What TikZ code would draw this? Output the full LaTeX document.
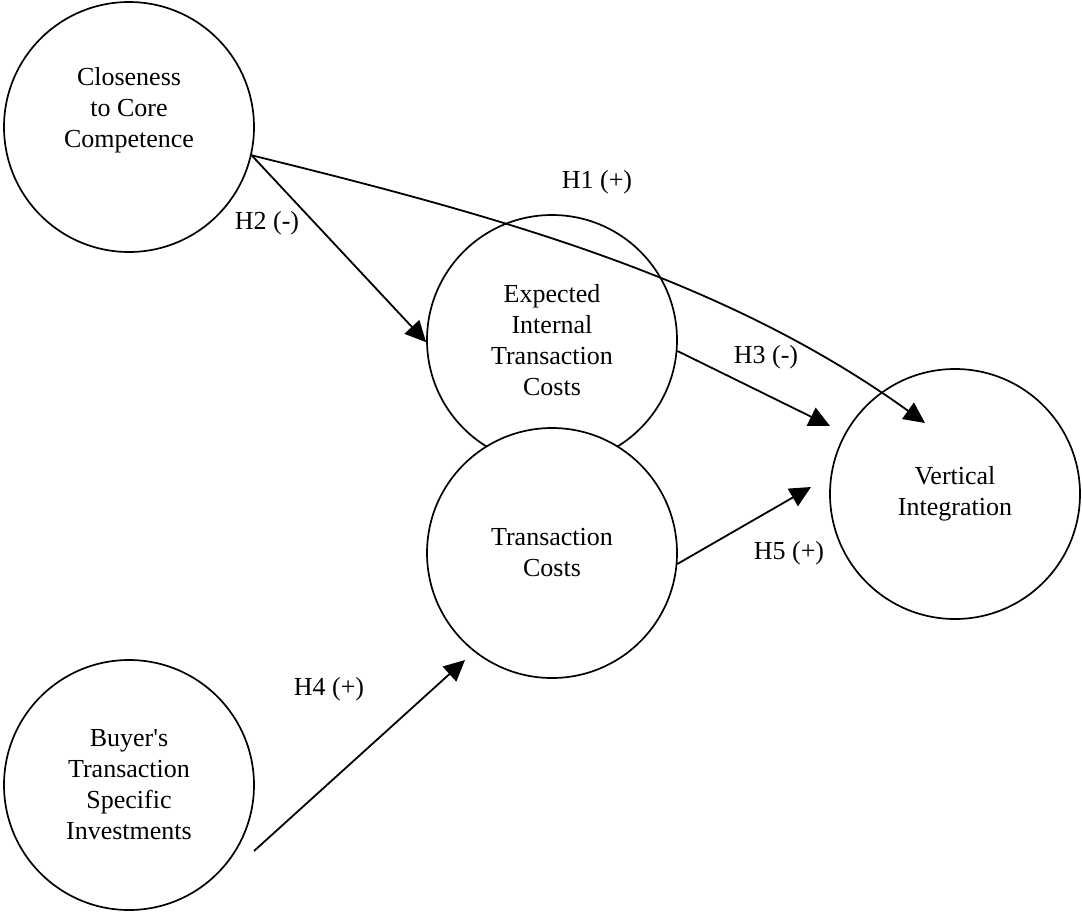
\documentclass[tikz,border=0pt]{standalone}
\usepackage{fontspec}
\setmainfont{Liberation Serif}[Ligatures=TeXOff]
\usetikzlibrary{arrows.meta}
\tikzset{
  construct/.style={circle,draw=black,line width=1.7pt,fill=white,minimum size=250pt,
                    inner sep=0pt,align=center,font=\fontsize{26}{31}\selectfont},
  ctext/.style={align=center,inner sep=0pt,font=\fontsize{26}{31}\selectfont},
  hyp/.style={inner sep=0pt,font=\fontsize{26}{31}\selectfont},
  fl/.style={-{Triangle[length=21pt,width=20pt]},line width=1.8pt},
}
\begin{document}
\begin{tikzpicture}[x=1pt,y=-1pt]
    \useasboundingbox (0,0) rectangle (1082,911);
    \node[construct] (core) at (129,127) {};
    \node[ctext] (corelbl) at (129,110) {Closeness\\to Core\\Competence};
    \node[construct] (eitc) at (552,340) {Expected\\Internal\\Transaction\\Costs};
    \node[construct] (tc) at (552,553) {Transaction\\Costs};
    \node[construct] (vi) at (955,494) {Vertical\\Integration};
    \node[construct] (bsi) at (129,785) {Buyer's\\Transaction\\Specific\\Investments};
    \coordinate (h1tip) at (925,423);
    \coordinate (h3tip) at (830,426);
    \coordinate (h5tip) at (811,487);
    \coordinate (h4tail) at (254,851);
    \coordinate (h4tip) at (465,660);
    \draw[fl] (core.-13) .. controls (503,217) and (725,279) .. (h1tip);
    \draw[fl] (core.-13) -- (eitc.181);
    \draw[fl] (eitc.-5) -- (h3tip);
    \draw[fl] (tc.-5) -- (h5tip);
    \draw[fl] (h4tail) -- (h4tip);
    \node[hyp] (h1) at (597,182) {H1 (+)};
    \node[hyp] (h2) at (267,223) {H2 (-)};
    \node[hyp] (h3) at (766,357) {H3 (-)};
    \node[hyp] (h4) at (329,689) {H4 (+)};
    \node[hyp] (h5) at (789,553) {H5 (+)};
  \end{tikzpicture}
\end{document}
